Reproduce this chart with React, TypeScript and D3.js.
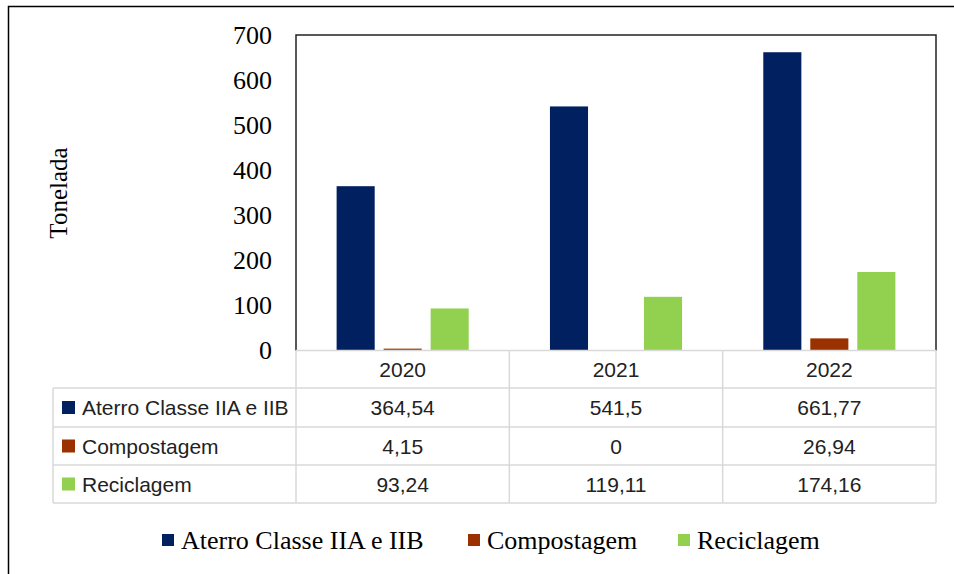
import React from "react";
import * as d3 from "d3";

const years = ["2020", "2021", "2022"];
const seriesNames = ["Aterro Classe IIA e IIB", "Compostagem", "Reciclagem"];
const aterro = [364.54, 541.5, 661.77];
const compostagem = [4.15, 0, 26.94];
const reciclagem = [93.24, 119.11, 174.16];
const aterroLabels = ["364,54", "541,5", "661,77"];
const compostagemLabels = ["4,15", "0", "26,94"];
const reciclagemLabels = ["93,24", "119,11", "174,16"];
const yTicks = [0, 100, 200, 300, 400, 500, 600, 700];
const colors = ["#002060", "#9C3100", "#92D050"];

const W = 954;
const H = 574;
const plotL = 296;
const plotR = 936;
const plotT = 35;
const plotB = 350.5;
const tableL = 53;
const rowLines = [388, 427, 465, 503];

export default function App() {
  const seriesValues = [aterro, compostagem, reciclagem];
  const seriesLabels = [aterroLabels, compostagemLabels, reciclagemLabels];
  const y = d3.scaleLinear().domain([0, 700]).range([plotB, plotT]);
  const x0 = d3.scaleBand<string>().domain(years).range([plotL, plotR]).padding(0);
  const x1 = d3
    .scaleBand<string>()
    .domain(seriesNames)
    .range([0, x0.bandwidth()])
    .paddingInner(0.19)
    .paddingOuter(0.864);

  const serif = "'Liberation Serif', 'Times New Roman', serif";
  const sans = "'Liberation Sans', Arial, sans-serif";
  const grid = "#d9d9d9";

  const legendItems = [
    { sq: 162, tx: 181 },
    { sq: 468, tx: 487 },
    { sq: 678, tx: 697 },
  ];

  return (
    <svg
      width={W}
      height={H}
      style={{ position: "absolute", left: 0, top: 0, background: "#fff" }}
    >
      <rect x={0} y={0} width={W} height={H} fill="#fff" />
      <rect x={8.5} y={6.5} width={980} height={620} fill="none" stroke="#000" strokeWidth={1.5} />

      {yTicks.map((t) => (
        <text
          key={t}
          x={272}
          y={y(t)}
          textAnchor="end"
          dominantBaseline="central"
          fontFamily={serif}
          fontSize={26}
          fill="#000"
        >
          {t}
        </text>
      ))}

      <text
        transform={`translate(58,193) rotate(-90)`}
        textAnchor="middle"
        dominantBaseline="central"
        fontFamily={serif}
        fontSize={25}
        fill="#000"
      >
        Tonelada
      </text>

      {years.map((yr, i) => (
        <g key={yr} transform={`translate(${x0(yr)},0)`}>
          {seriesNames.map((s, j) => {
            const v = seriesValues[j][i];
            if (v <= 0) return null;
            return (
              <rect
                key={s}
                x={x1(s)}
                y={y(v)}
                width={x1.bandwidth()}
                height={plotB - y(v)}
                fill={colors[j]}
              />
            );
          })}
        </g>
      ))}

      <path
        d={`M${plotL},${plotB} V${plotT} H${plotR} V${plotB}`}
        fill="none"
        stroke="#222"
        strokeWidth={1.5}
      />

      <g stroke={grid} strokeWidth={1.5} fill="none">
        <line x1={plotL} x2={plotR} y1={plotB} y2={plotB} />
        {rowLines.map((ry) => (
          <line key={ry} x1={tableL} x2={plotR} y1={ry} y2={ry} />
        ))}
        <line x1={tableL} x2={tableL} y1={rowLines[0]} y2={rowLines[3]} />
        {years.map((yr) => (
          <line key={yr} x1={x0(yr)} x2={x0(yr)} y1={plotB} y2={rowLines[3]} />
        ))}
        <line x1={plotR} x2={plotR} y1={plotB} y2={rowLines[3]} />
      </g>

      {years.map((yr) => (
        <text
          key={yr}
          x={(x0(yr) as number) + x0.bandwidth() / 2}
          y={(plotB + rowLines[0]) / 2}
          textAnchor="middle"
          dominantBaseline="central"
          fontFamily={sans}
          fontSize={21}
          fill="#222"
        >
          {yr}
        </text>
      ))}

      {seriesNames.map((s, j) => {
        const cy = (rowLines[j] + rowLines[j + 1]) / 2;
        return (
          <g key={s}>
            <rect x={62} y={cy - 6.5} width={13} height={13} fill={colors[j]} />
            <text
              x={82}
              y={cy}
              dominantBaseline="central"
              fontFamily={sans}
              fontSize={21}
              fill="#222"
            >
              {s}
            </text>
            {years.map((yr, i) => (
              <text
                key={yr}
                x={(x0(yr) as number) + x0.bandwidth() / 2}
                y={cy}
                textAnchor="middle"
                dominantBaseline="central"
                fontFamily={sans}
                fontSize={21}
                fill="#222"
              >
                {seriesLabels[j][i]}
              </text>
            ))}
          </g>
        );
      })}

      {seriesNames.map((s, j) => (
        <g key={s}>
          <rect x={legendItems[j].sq} y={534} width={12} height={12} fill={colors[j]} />
          <text
            x={legendItems[j].tx}
            y={540}
            dominantBaseline="central"
            fontFamily={serif}
            fontSize={26}
            fill="#000"
          >
            {s}
          </text>
        </g>
      ))}
    </svg>
  );
}
